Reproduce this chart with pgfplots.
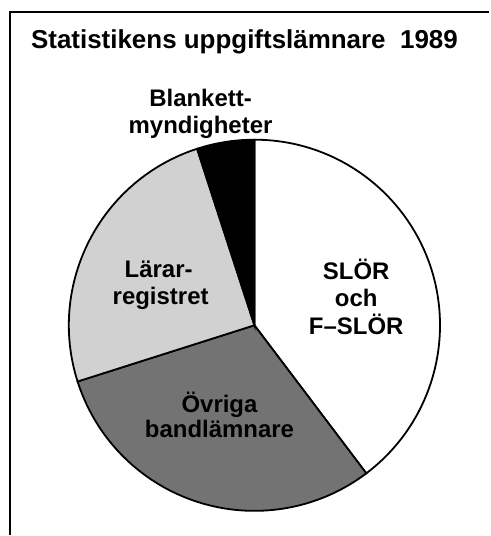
\documentclass[border=0pt]{standalone}
\usepackage{fontspec}
\setmainfont{Liberation Sans}
\usepackage{pgfplots}
\usepackage{pgfplotstable}
\pgfplotsset{compat=1.18}

% shares (per cent), clockwise from 12 o'clock
\pgfplotstableread{
share label
39.7 SLOR
30.4 Ovriga
24.9 Larar
5.0  Blankett
}\piedata

\begin{document}%
\pgfplotstablegetelem{0}{share}\of\piedata\pgfmathsetmacro\aB{90-3.6*\pgfplotsretval}%
\pgfplotstablegetelem{1}{share}\of\piedata\pgfmathsetmacro\aC{\aB-3.6*\pgfplotsretval}%
\pgfplotstablegetelem{2}{share}\of\piedata\pgfmathsetmacro\aD{\aC-3.6*\pgfplotsretval}%
\pgfplotstablegetelem{3}{share}\of\piedata\pgfmathsetmacro\aE{\aD-3.6*\pgfplotsretval}%
\begin{tikzpicture}
\begin{axis}[
  width=245pt, height=268pt, scale only axis,
  xmin=0, xmax=490, ymin=0, ymax=536,
  axis line style={draw=none}, ticks=none,
  clip=false,
  font=\bfseries,
]
\def\cx{255}\def\cy{210}\def\R{186}
\filldraw[fill=white, draw=black, line width=0.9pt]
  (axis cs:\cx,\cy) -- ++(90:\R) arc[start angle=90, end angle=\aB, radius=\R] -- cycle;
\filldraw[fill=black!55, draw=black, line width=0.9pt]
  (axis cs:\cx,\cy) -- ++(\aB:\R) arc[start angle=\aB, end angle=\aC, radius=\R] -- cycle;
\filldraw[fill=black!18, draw=black, line width=0.9pt]
  (axis cs:\cx,\cy) -- ++(\aC:\R) arc[start angle=\aC, end angle=\aD, radius=\R] -- cycle;
\filldraw[fill=black, draw=black, line width=0.9pt]
  (axis cs:\cx,\cy) -- ++(\aD:\R) arc[start angle=\aD, end angle=\aE, radius=\R] -- cycle;
% frame
\draw[line width=1.2pt] (axis cs:490,524) -- (axis cs:10,524) -- (axis cs:10,0);
% title
\node[anchor=base, font=\fontsize{13}{15}\bfseries\selectfont] at (axis cs:245,487) {Statistikens uppgiftslämnare\ \ 1989};
% labels
\node[anchor=base, font=\fontsize{12}{14}\bfseries\selectfont] at (axis cs:201,429) {Blankett-};
\node[anchor=base, font=\fontsize{12}{14}\bfseries\selectfont] at (axis cs:201,402) {myndigheter};
\node[anchor=base, font=\fontsize{12}{14}\bfseries\selectfont] at (axis cs:357,256) {SLÖR};
\node[anchor=base, font=\fontsize{12}{14}\bfseries\selectfont] at (axis cs:357,229) {och};
\node[anchor=base, font=\fontsize{12}{14}\bfseries\selectfont] at (axis cs:357,201) {F–SLÖR};
\node[anchor=base, font=\fontsize{12}{14}\bfseries\selectfont] at (axis cs:159,258) {Lärar-};
\node[anchor=base, font=\fontsize{12}{14}\bfseries\selectfont] at (axis cs:161,231) {registret};
\node[anchor=base, font=\fontsize{12}{14}\bfseries\selectfont] at (axis cs:220,123) {Övriga};
\node[anchor=base, font=\fontsize{12}{14}\bfseries\selectfont] at (axis cs:220,98) {bandlämnare};
\end{axis}
\end{tikzpicture}
\end{document}
